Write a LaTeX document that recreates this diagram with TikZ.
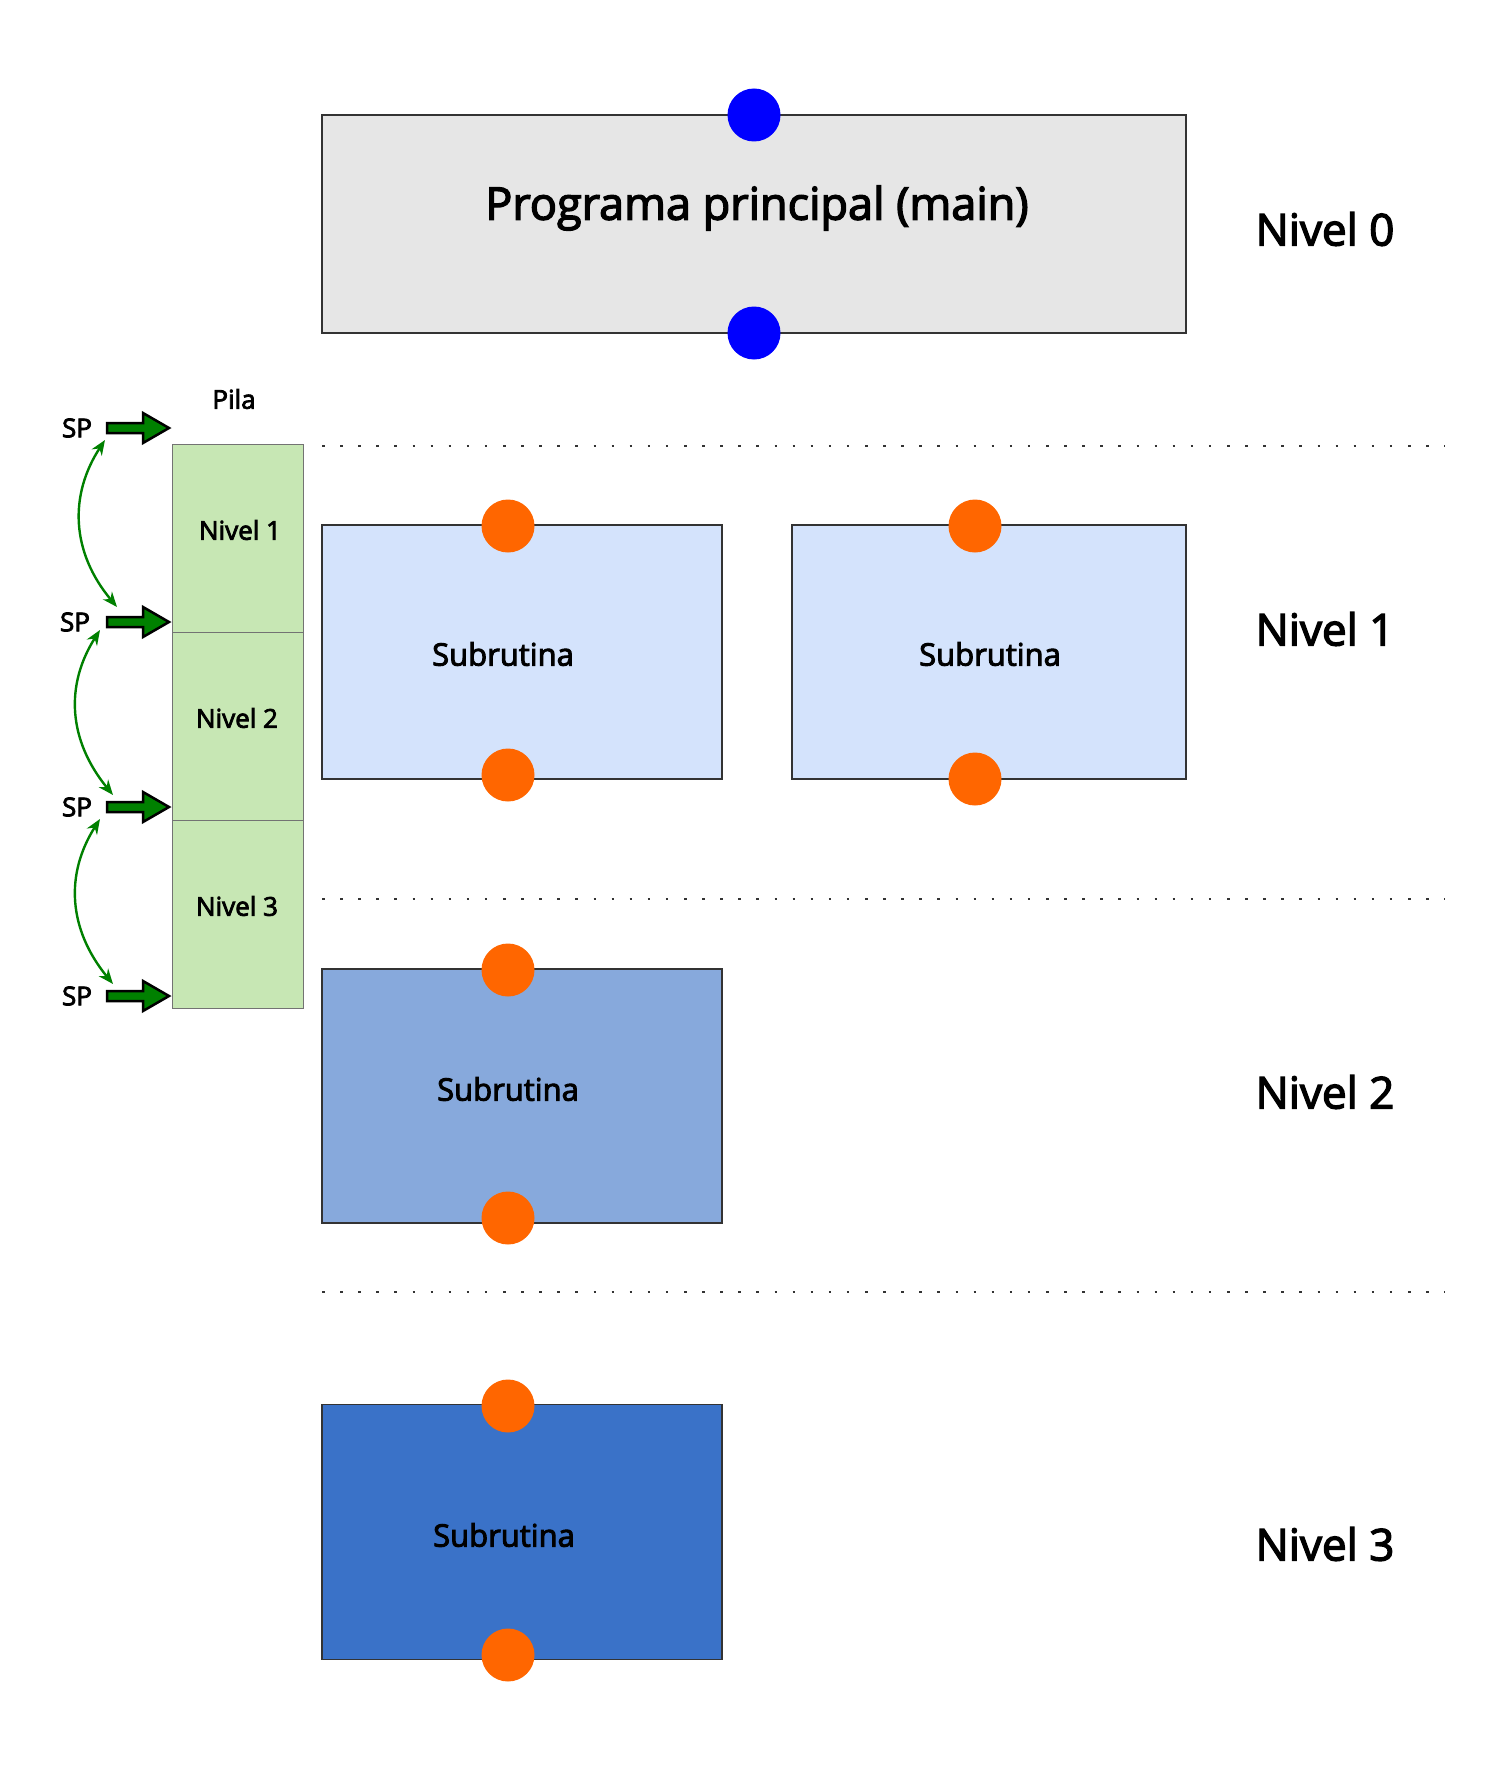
\documentclass[tikz,border=0pt]{standalone}
\usepackage{fontspec}
\setmainfont{Open Sans}[FakeBold=3]
\usetikzlibrary{arrows.meta}
\definecolor{mainfill}{HTML}{E6E6E6}
\definecolor{lvlone}{HTML}{D4E3FC}
\definecolor{lvltwo}{HTML}{87A9DC}
\definecolor{lvlthree}{HTML}{3A72C8}
\definecolor{dotorange}{HTML}{FF6600}
\definecolor{dotblue}{HTML}{0000FF}
\definecolor{stackfill}{HTML}{C7E7B4}
\definecolor{arrgreen}{HTML}{008000}
\definecolor{boxline}{HTML}{333333}
\tikzset{
  box/.style={draw=boxline, line width=1.3pt, inner sep=0pt, rectangle},
  cell/.style={draw=black!55, line width=1pt, fill=stackfill, inner sep=0pt, minimum width=131, minimum height=188},
  odot/.style={circle, fill=dotorange, draw=none, minimum size=53, inner sep=0pt},
  bdot/.style={circle, fill=dotblue, draw=none, minimum size=53, inner sep=0pt},
  bigtxt/.style={font=\fontsize{44}{52}\selectfont, inner sep=0pt},
  maintxt/.style={font=\fontsize{45}{52}\selectfont, inner sep=0pt},
  subtxt/.style={font=\fontsize{31}{36}\selectfont, inner sep=0pt},
  smalltxt/.style={font=\fontsize{26}{30}\selectfont, inner sep=0pt},
  sep/.style={line width=2pt, dash pattern=on 2.5pt off 15.6pt, black!80},
  sparrow/.style={fill=arrgreen, draw=black, line width=2.5pt, line join=miter},
  curvearr/.style={arrgreen, line width=2.4pt, {Stealth[length=15pt,width=12pt]}-{Stealth[length=15pt,width=12pt]}}
}
\begin{document}
\begin{tikzpicture}[x=1pt,y=-1pt]
\useasboundingbox (0,0) rectangle (1503,1771);
\fill[white] (0,0) rectangle (1503,1771);

% main program
\node[box, fill=mainfill, minimum width=864, minimum height=218] (main) at (754,224) {};
\node[maintxt] (maintext) at (757,208) {Programa principal (main)};
\node[bdot] (mtop) at (754,115) {};
\node[bdot] (mbot) at (754,333) {};
\node[bigtxt] (n0) at (1325,229) {Nivel 0};

% separators
\coordinate (s1a) at (322,446); \coordinate (s1b) at (1445,446);
\coordinate (s2a) at (322,899); \coordinate (s2b) at (1445,899);
\coordinate (s3a) at (322,1292); \coordinate (s3b) at (1445,1292);
\draw[sep] (s1a) -- (s1b);
\draw[sep] (s2a) -- (s2b);
\draw[sep] (s3a) -- (s3b);

% level 1
\node[box, fill=lvlone, minimum width=400, minimum height=254] (s1) at (522,652) {};
\node[subtxt] (s1t) at (503,654) {Subrutina};
\node[odot] (s1top) at (508,526) {};
\node[odot] (s1bot) at (508,775) {};
\node[box, fill=lvlone, minimum width=394, minimum height=254] (s2) at (989,652) {};
\node[subtxt] (s2t) at (990,654) {Subrutina};
\node[odot] (s2top) at (975,526) {};
\node[odot] (s2bot) at (975,779) {};
\node[bigtxt] (n1) at (1325,629) {Nivel 1};

% level 2
\node[box, fill=lvltwo, minimum width=400, minimum height=254] (s3) at (522,1096) {};
\node[subtxt] (s3t) at (508,1089) {Subrutina};
\node[odot] (s3top) at (508,970) {};
\node[odot] (s3bot) at (508,1218) {};
\node[bigtxt] (n2) at (1325,1092) {Nivel 2};

% level 3
\node[box, fill=lvlthree, minimum width=400, minimum height=255] (s4) at (522,1532) {};
\node[subtxt] (s4t) at (504,1535) {Subrutina};
\node[odot] (s4top) at (508,1406) {};
\node[odot] (s4bot) at (508,1655) {};
\node[bigtxt] (n3) at (1325,1544) {Nivel 3};

% stack
\node[smalltxt] (pila) at (234,399) {Pila};
\node[cell] (c1) at (237.5,538) {};
\node[cell] (c2) at (237.5,726) {};
\node[cell] (c3) at (237.5,914) {};
\node[smalltxt] (c1t) at (240,530) {Nivel 1};
\node[smalltxt] (c2t) at (237,718) {Nivel 2};
\node[smalltxt] (c3t) at (237,906) {Nivel 3};

% SP arrows
\foreach \yy/\xl/\n in {428/77/1, 622/75/2, 807/77/3, 996/77/4} {
  \node[smalltxt] (sp\n) at (\xl,\yy) {SP};
  \draw[sparrow] (107,\yy-5) -- (143,\yy-5) -- (143,\yy-15) -- (169,\yy) -- (143,\yy+15) -- (143,\yy+5) -- (107,\yy+5) -- cycle;
}

% curved double arrows
\coordinate (a1) at (105,440); \coordinate (b1) at (117,607);
\coordinate (a2) at (100,630); \coordinate (b2) at (113,795);
\coordinate (a3) at (100,819); \coordinate (b3) at (113,984);
\draw[curvearr] (a1) .. controls (69,495) and (71,552) .. (b1);
\draw[curvearr] (a2) .. controls (65,685) and (68,740) .. (b2);
\draw[curvearr] (a3) .. controls (65,874) and (68,929) .. (b3);
\end{tikzpicture}
\end{document}
